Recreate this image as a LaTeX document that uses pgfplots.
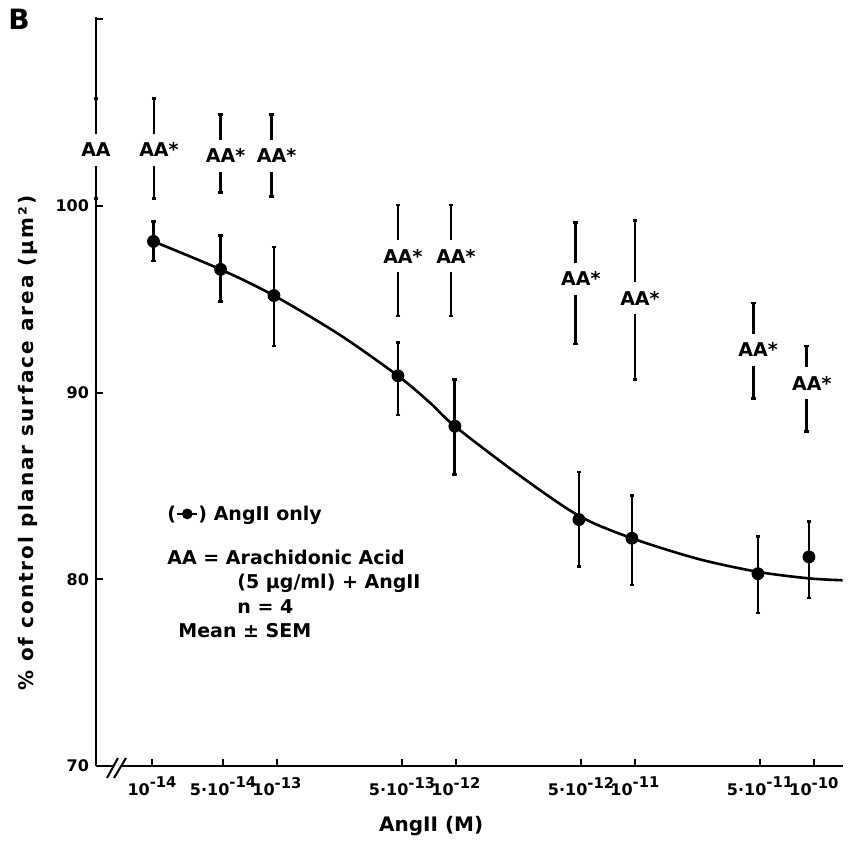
\documentclass[border=0pt]{standalone}
\usepackage{pgfplots}
\pgfplotsset{compat=1.18}
\usepackage{fontspec}
\setmainfont{DejaVu Sans}
\newcommand\ex[1]{10\raisebox{0.45em}{\fontsize{7.4}{8}\selectfont #1}}

\pgfplotstableread{
u      v      ep    em
0.310  98.1   1.05  1.05
0.685  96.6   1.8   1.7
0.983  95.2   2.6   2.7
1.676  90.9   1.8   2.1
1.994  88.2   2.5   2.6
2.687  83.2   2.55  2.5
2.983  82.2   2.3   2.5
3.687  80.3   2.0   2.1
3.972  81.2   1.9   2.2
}\angdata

\pgfplotstableread{
u      v
0.310  98.1
0.685  96.6
0.983  95.2
1.35   93.1
1.676  90.9
1.85   89.5
1.994  88.2
2.35   85.6
2.687  83.4
2.983  82.2
3.35   81.1
3.687  80.4
3.972  80.05
4.160  79.95
}\curvedata

\pgfplotstableread{
u      v      ep    em
-0.011 103.0  2.75  2.6
}\aactrl

\pgfplotstableread{
u      v      ep    em
0.313  103.0  2.75  2.6
0.685  102.7  2.2   2.0
0.970  102.7  2.2   2.2
1.676  97.3   2.75  3.2
1.972  97.3   2.75  3.2
2.670  96.1   3.0   3.5
3.000  95.05  4.15  4.35
3.660  92.3   2.5   2.6
3.960  90.5   2.0   2.6
}\aadata

\pgfplotsset{
  errstyle/.style={
    error bars/y dir=both, error bars/y explicit,
    error bars/error bar style={draw=black, line width=1.4pt},
    error bars/error mark options={rotate=90, draw=black, line width=1.4pt, mark size=1.2pt}},
  aabars/.style={only marks, mark=none, errstyle,
    nodes near coords align=center,
    every node near coord/.append style={fill=white, text=black, anchor=center, inner xsep=1pt, inner ysep=4.5pt, text height=7pt, text depth=0pt, font=\bfseries\fontsize{9.5}{11}\selectfont}},
}

\begin{document}
\begin{tikzpicture}
\path[use as bounding box] (-48pt,-39.5pt) rectangle (380.5pt,383pt);
\begin{axis}[
  at={(0pt,0pt)}, anchor=south west,
  scale only axis, width=373.3pt, height=374.3pt,
  xmin=-0.011, xmax=4.16, ymin=70, ymax=110.1,
  axis x line*=bottom, axis y line*=left,
  axis line style={line width=1pt},
  tick align=inside, major tick length=3.5pt,
  tick style={line width=1pt, black},
  xtick={0.302,0.699,1,1.699,2,2.699,3,3.699,4},
  xticklabels={\ex{-14},5·\ex{-14},\ex{-13},5·\ex{-13},\ex{-12},5·\ex{-12},\ex{-11},5·\ex{-11},\ex{-10}},
  ytick={70,80,90,100,110}, yticklabels={70,80,90,100,{}},
  minor tick num=0,
  ticklabel style={font=\bfseries\fontsize{8}{10}\selectfont},
  xticklabel style={yshift=-2pt},
  xlabel={AngII (M)},
  ylabel={\addfontfeature{LetterSpace=10}\% of control planar surface area (μm²)},
  xlabel style={at={(axis description cs:0.449,-0.080)}, anchor=center, font=\bfseries\fontsize{10}{12}\selectfont},
  ylabel style={at={(axis description cs:-0.091,0.431)}, anchor=center, font=\bfseries\fontsize{10}{12}\selectfont},
  clip=false,
]
\addplot[smooth, black, line width=1.3pt, mark=none] table[x=u,y=v] {\curvedata};
\addplot[only marks, black, mark=*, mark size=3pt, errstyle]
  table[x=u,y=v,y error plus=ep,y error minus=em] {\angdata};
\addplot[aabars, nodes near coords={AA}]
  table[x=u,y=v,y error plus=ep,y error minus=em] {\aactrl};
\addplot[aabars, nodes near coords={AA\rlap{*}}]
  table[x=u,y=v,y error plus=ep,y error minus=em] {\aadata};
\node[font=\bfseries\fontsize{14}{16}\selectfont] at (axis description cs:-0.103,0.998) {B};
\end{axis}
% axis break
\fill[white] (8.3pt,-1.5pt) rectangle (12.3pt,1.5pt);
\draw[line width=1pt] (5.5pt,-6pt) -- (11pt,4pt);
\draw[line width=1pt] (9pt,-6pt) -- (15pt,4pt);
% annotation block
\begin{scope}[every node/.style={anchor=west, inner sep=0pt, font=\bfseries\fontsize{9.5}{11}\selectfont}]
\node at (35.5pt,125.5pt) {(\tikz[baseline=-0.6ex]{\draw[line width=1.2pt] (0pt,0pt) -- (10pt,0pt); \fill (5pt,0pt) circle (2.7pt);}) AngII only};
\node at (35.5pt,104.5pt) {AA = Arachidonic Acid};
\node at (70.5pt,91.5pt) {(5 μg/ml) + AngII};
\node at (70.5pt,79.5pt) {n = 4};
\node at (41pt,67.5pt) {Mean ± SEM};
\end{scope}
\end{tikzpicture}
\end{document}
